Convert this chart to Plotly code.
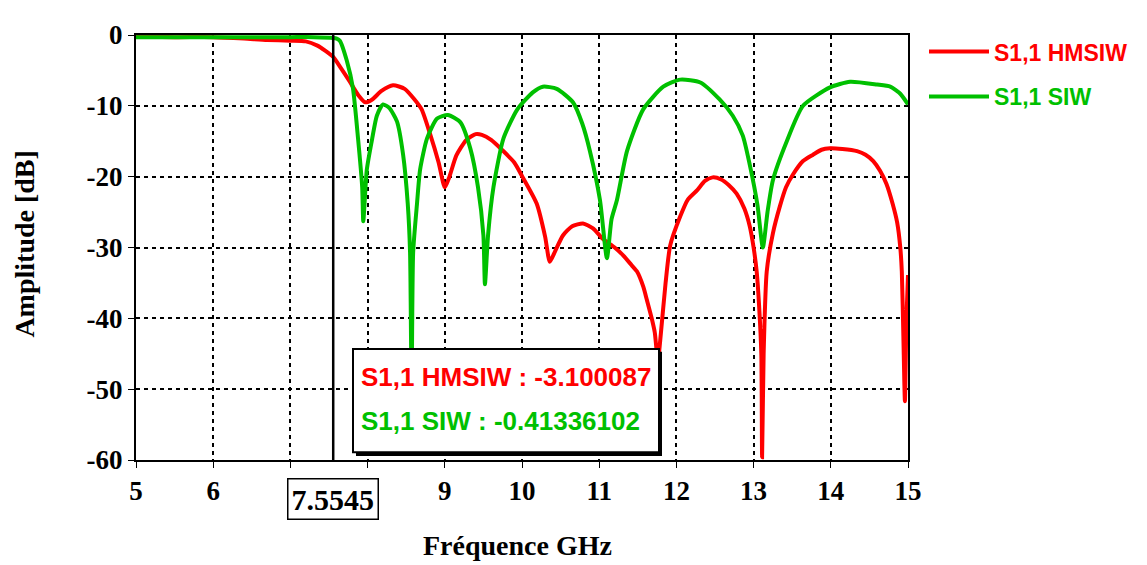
import plotly.graph_objects as go

# ---------------- data ----------------
freq_hmsiw = [5.0, 5.5, 6.0, 6.4, 6.7, 7.0, 7.2, 7.35, 7.45, 7.5545, 7.65, 7.77, 7.88, 7.97,
              8.06, 8.18, 8.33, 8.48, 8.6, 8.7, 8.81, 8.92, 9.0, 9.06, 9.15, 9.28, 9.4, 9.48,
              9.6, 9.75, 9.9, 10.01, 10.19, 10.3, 10.36, 10.43, 10.53, 10.65, 10.79, 10.92,
              11.05, 11.2, 11.31, 11.42, 11.49, 11.57, 11.62, 11.68, 11.72, 11.76, 11.8, 11.86,
              11.92, 12.05, 12.15, 12.27, 12.37, 12.47, 12.58, 12.68, 12.78, 12.88, 12.95, 13.0,
              13.04, 13.07, 13.1, 13.11, 13.13, 13.17, 13.25, 13.34, 13.42, 13.51, 13.64, 13.77,
              13.88, 13.99, 14.15, 14.34, 14.45, 14.55, 14.64, 14.72, 14.8, 14.86, 14.9, 14.92,
              14.94, 14.96, 14.98, 15.0]
s11_hmsiw = [-0.2, -0.3, -0.3, -0.5, -0.7, -0.8, -0.9, -1.5, -2.2, -3.1, -4.6, -6.6, -8.5, -9.5,
             -9.1, -7.9, -7.1, -7.6, -9.0, -10.5, -14.0, -18.0, -21.5, -20.0, -17.0, -14.8, -14.0, -14.1,
             -14.8, -16.3, -18.0, -20.1, -23.8, -28.5, -32.0, -30.5, -28.3, -27.0, -26.6, -27.3,
             -28.8, -30.0, -31.1, -32.5, -33.4, -35.5, -37.5, -40.0, -42.0, -46.0, -42.0, -35.0,
             -29.7, -25.6, -23.2, -21.9, -20.6, -20.1, -20.4, -21.2, -22.4, -24.5, -27.0, -30.0,
             -33.4, -38.0, -45.0, -59.6, -45.0, -33.4, -28.0, -24.2, -21.5, -19.7, -17.8, -16.9,
             -16.2, -16.0, -16.1, -16.4, -16.9, -17.8, -19.2, -21.0, -23.8, -26.5, -30.0, -33.4,
             -42.5, -51.7, -40.0, -33.9]

freq_siw = [5.0, 5.5, 6.0, 6.5, 7.0, 7.3, 7.5545, 7.6, 7.64, 7.73, 7.81, 7.876, 7.93, 7.944,
            7.99, 8.06, 8.12, 8.2, 8.28, 8.38, 8.46, 8.52, 8.55, 8.57, 8.59, 8.64, 8.68, 8.77,
            8.9, 9.04, 9.2, 9.33, 9.43, 9.5, 9.52, 9.56, 9.63, 9.76, 9.94, 10.14, 10.27, 10.45,
            10.66, 10.78, 10.88, 11.01, 11.1, 11.16, 11.23, 11.36, 11.57, 11.83, 12.05, 12.31,
            12.56, 12.73, 12.86, 12.95, 13.05, 13.12, 13.18, 13.25, 13.43, 13.64, 13.99, 14.25,
            14.6, 14.77, 14.9, 15.0]
s11_siw = [-0.3, -0.3, -0.3, -0.3, -0.3, -0.3, -0.41, -0.5, -0.8, -3.6, -7.5, -14.6, -21.5, -26.3,
           -19.0, -14.6, -11.4, -9.8, -10.3, -12.2, -16.9, -23.8, -30.7, -50.0, -30.7, -23.8, -19.0, -14.6,
           -11.8, -11.3, -12.3, -16.0, -21.5, -28.3, -35.2, -28.3, -21.5, -14.6, -10.5, -8.1, -7.3, -7.6,
           -9.5, -12.5, -16.4, -23.3, -31.5, -26.0, -23.3, -16.4, -10.5, -7.3, -6.3, -6.7,
           -9.1, -11.4, -14.2, -18.3, -24.0, -30.0, -25.0, -20.5, -15.0, -10.0, -7.4, -6.6,
           -7.0, -7.3, -8.3, -9.8]

marker_freq = 7.5545
marker_hmsiw = "-3.100087"
marker_siw = "-0.41336102"

x_ticks = [5, 6, 7, 8, 9, 10, 11, 12, 13, 14, 15]
x_ticktext = ["5", "6", "", "", "9", "10", "11", "12", "13", "14", "15"]
y_ticks = [0, -10, -20, -30, -40, -50, -60]
y_ticktext = ["0", "-10", "-20", "-30", "-40", "-50", "-60"]

RED = "#ff0000"
GREEN = "#00c000"
SERIF = "Liberation Serif"
SANS = "Liberation Sans"

# page body has an 8px margin: figure is sized/offset to compensate
OFF = 8
L, T = 136 - OFF, 24 - OFF
PW, PH = 772, 436


def px(xp):
    return (xp - 136) / PW


def py(yp):
    return (460 - yp) / PH


fig = go.Figure()
fig.add_trace(go.Scatter(x=freq_hmsiw, y=s11_hmsiw, mode="lines",
                         line=dict(color=RED, width=4, shape="spline", smoothing=0.6),
                         name=f"<span style='color:{RED}'>S1,1 HMSIW</span>",
                         legendgroup="a"))
fig.add_trace(go.Scatter(x=freq_siw, y=s11_siw, mode="lines",
                         line=dict(color=GREEN, width=4, shape="spline", smoothing=0.6),
                         name=f"<span style='color:{GREEN}'>S1,1 SIW</span>",
                         legendgroup="b"))

axis_common = dict(
    showgrid=True, gridcolor="black", gridwidth=1.5, griddash="4px,4px",
    showline=True, linecolor="black", linewidth=2, mirror=True,
    ticks="outside", ticklen=6, tickcolor="black", tickwidth=1,
    zeroline=False,
    tickfont=dict(family=SERIF, size=27, color="black", weight="bold"),
)

fig.update_xaxes(range=[5, 15], tickvals=x_ticks, ticktext=x_ticktext, **axis_common)
fig.update_yaxes(range=[-60, 0], tickvals=y_ticks, ticktext=y_ticktext, **axis_common)

# marker line
fig.add_shape(type="line", xref="x", yref="y", x0=marker_freq, x1=marker_freq, y0=-60, y1=0,
              line=dict(color="black", width=2.5), layer="above")

# marker readout box (shadow + white box)
fig.add_shape(type="rect", xref="paper", yref="paper",
              x0=px(356), x1=px(662), y0=py(456), y1=py(349),
              fillcolor="black", line=dict(width=0), layer="above")
fig.add_shape(type="rect", xref="paper", yref="paper",
              x0=px(353), x1=px(659), y0=py(452), y1=py(346),
              fillcolor="white", line=dict(color="black", width=2), layer="above")

fig.add_annotation(xref="paper", yref="paper", x=px(359), y=py(375),
                   xanchor="left", yanchor="middle", showarrow=False,
                   text=f"S1,1 HMSIW : {marker_hmsiw}",
                   font=dict(family=SANS, size=26, color=RED, weight="bold"))
fig.add_annotation(xref="paper", yref="paper", x=px(359), y=py(420),
                   xanchor="left", yanchor="middle", showarrow=False,
                   text=f"S1,1 SIW : {marker_siw}",
                   font=dict(family=SANS, size=26, color=GREEN, weight="bold"))

# marker frequency label on x axis
fig.add_annotation(xref="x", yref="paper", x=marker_freq, y=0, yanchor="top", yshift=-18,
                   showarrow=False, text=f"{marker_freq}",
                   bordercolor="black", borderwidth=1.5, borderpad=3, bgcolor="white",
                   font=dict(family=SERIF, size=30, color="black", weight="bold"))

# axis titles
fig.add_annotation(xref="paper", yref="paper", x=px(517), y=py(548),
                   xanchor="center", yanchor="middle", showarrow=False,
                   text="Fréquence GHz",
                   font=dict(family=SERIF, size=28, color="black", weight="bold"))
fig.add_annotation(xref="paper", yref="paper", x=px(25), y=py(238),
                   xanchor="center", yanchor="middle", showarrow=False, textangle=-90,
                   text="Amplitude [dB]",
                   font=dict(family=SERIF, size=28, color="black", weight="bold"))

fig.update_layout(
    width=1147 - OFF, height=565 - OFF,
    margin=dict(l=L, r=1147 - OFF - L - PW, t=T, b=565 - OFF - T - PH),
    paper_bgcolor="white", plot_bgcolor="white",
    showlegend=True,
    legend=dict(x=px(924), y=py(19), xanchor="left", yanchor="top",
                traceorder="grouped", tracegroupgap=12, itemwidth=60,
                font=dict(family=SANS, size=23, weight="bold"),
                bgcolor="rgba(0,0,0,0)", borderwidth=0),
)

fig.write_html("out.html")
